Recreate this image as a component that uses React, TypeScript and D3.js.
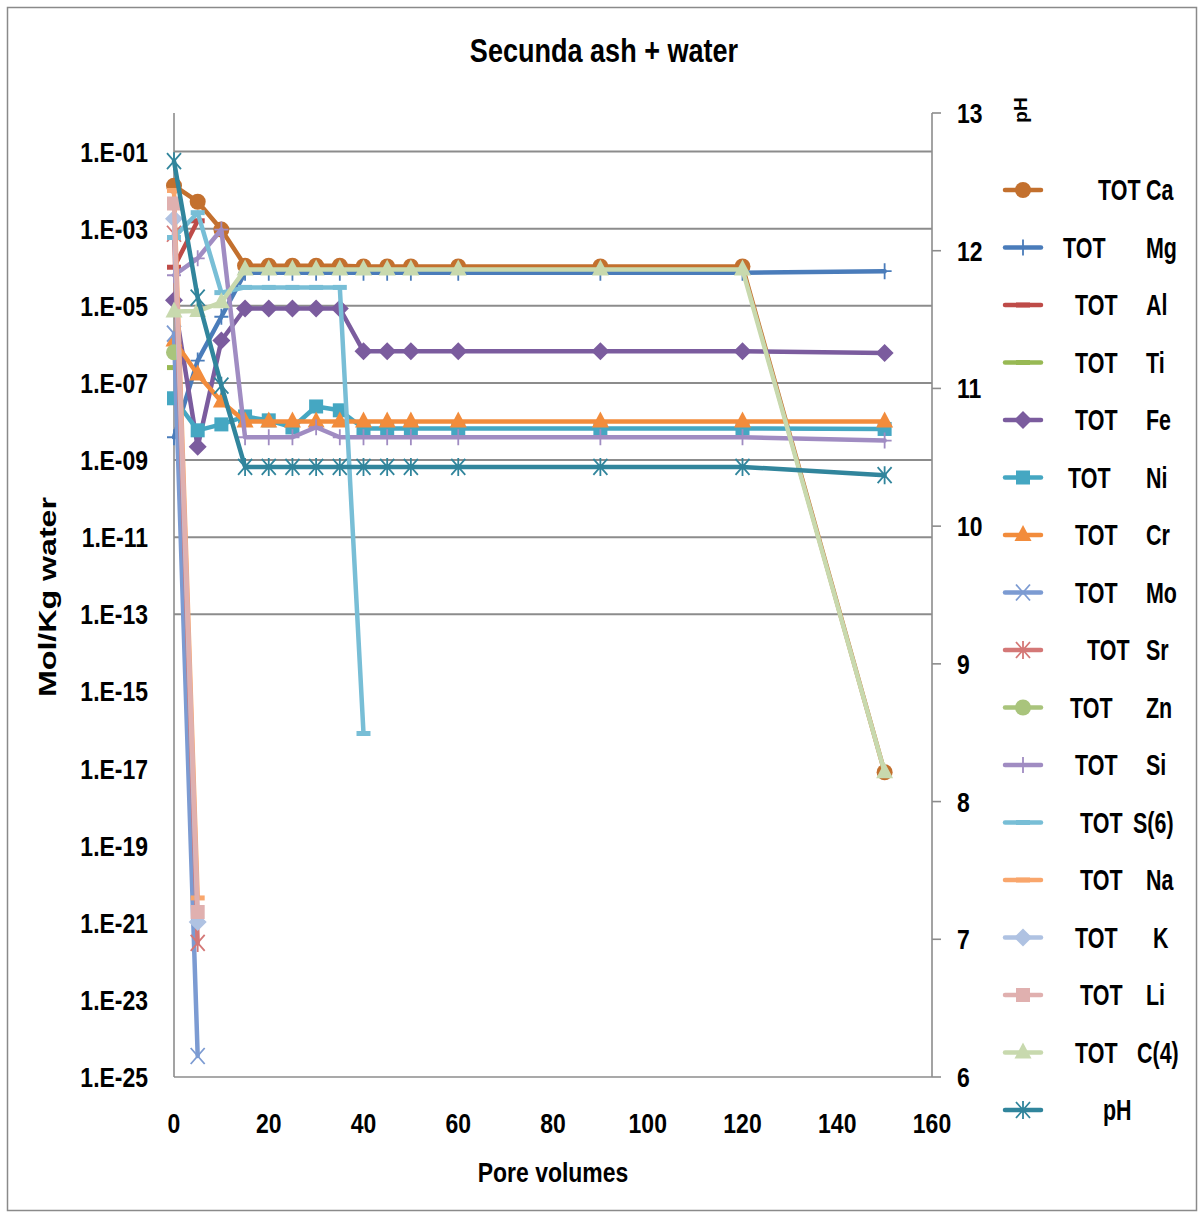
import React from 'react';
import * as d3 from 'd3';

// Leaching of Secunda fly ash with water: total dissolved species (mol/kg water)
// and pH against pore volumes flushed.
const poreVolumes = [0, 5, 10, 15, 20, 25, 30, 35, 40, 45, 50, 60, 90, 120, 150];

const totCa = [1.3e-2, 5.0e-3, 9.5e-4, 1.1e-4, 1.1e-4, 1.1e-4, 1.1e-4, 1.1e-4, 1.05e-4, 1.05e-4, 1.05e-4, 1.05e-4, 1.05e-4, 1.05e-4, 8e-18];
const totMg = [3.9e-9, 3.8e-7, 5.2e-6, 7.2e-5, 7.2e-5, 7.2e-5, 7.2e-5, 7.2e-5, 7.2e-5, 7.2e-5, 7.2e-5, 7.2e-5, 7.2e-5, 7.2e-5, 7.9e-5];
const totAl = [1.0e-4, 1.6e-3, null, null, null, null, null, null, null, null, null, null, null, null, null];
const totTi = [2.5e-7, null, null, null, null, null, null, null, null, null, null, null, null, null, null];
const totFe = [1.4e-5, 2.2e-9, 1.26e-6, 8.5e-6, 8.5e-6, 8.5e-6, 8.5e-6, 8.5e-6, 6.6e-7, 6.6e-7, 6.6e-7, 6.6e-7, 6.6e-7, 6.6e-7, 6.0e-7];
const totNi = [4.0e-8, 5.9e-9, 8.4e-9, 1.35e-8, 1.07e-8, 7.0e-9, 2.45e-8, 1.95e-8, 6.6e-9, 6.6e-9, 6.6e-9, 6.6e-9, 6.6e-9, 6.6e-9, 6.4e-9];
const totCr = [1.26e-6, 1.66e-7, 3.3e-8, 1.0e-8, 1.0e-8, 1.0e-8, 1.0e-8, 1.0e-8, 1.0e-8, 1.0e-8, 1.0e-8, 1.0e-8, 1.0e-8, 1.0e-8, 1.0e-8];
const totMo = [1.9e-6, 3.5e-25, null, null, null, null, null, null, null, null, null, null, null, null, null];
const totSr = [7.4e-4, 3.0e-22, null, null, null, null, null, null, null, null, null, null, null, null, null];
const totZn = [6.2e-7, null, null, null, null, null, null, null, null, null, null, null, null, null, null];
const totSi = [6.2e-5, 1.7e-4, 9.5e-4, 3.9e-9, 3.9e-9, 3.9e-9, 7.1e-9, 3.9e-9, 3.9e-9, 3.9e-9, 3.9e-9, 3.9e-9, 3.9e-9, 3.9e-9, 3.2e-9];
const totS6 = [5.9e-4, 2.6e-3, 2.2e-5, 3.0e-5, 3.0e-5, 3.0e-5, 3.0e-5, 3.0e-5, 8.1e-17, null, null, null, null, null, null];
const totNa = [9.8e-3, 4.4e-21, null, null, null, null, null, null, null, null, null, null, null, null, null];
const totK = [1.8e-3, 1.05e-21, null, null, null, null, null, null, null, null, null, null, null, null, null];
const totLi = [4.5e-3, 1.9e-21, null, null, null, null, null, null, null, null, null, null, null, null, null];
const totC4 = [7.1e-6, 7.3e-6, 1.23e-5, 8.7e-5, 8.7e-5, 8.7e-5, 8.7e-5, 8.7e-5, 8.7e-5, 8.7e-5, 8.7e-5, 8.7e-5, 8.7e-5, 8.7e-5, 8e-18];
const pH = [12.65, 11.66, 11.02, 10.43, 10.43, 10.43, 10.43, 10.43, 10.43, 10.43, 10.43, 10.43, 10.43, 10.43, 10.37];

const concTicks = [1e-1, 1e-3, 1e-5, 1e-7, 1e-9, 1e-11, 1e-13, 1e-15, 1e-17, 1e-19, 1e-21, 1e-23, 1e-25];
const gridTicks = [1e-1, 1e-3, 1e-5, 1e-7, 1e-9, 1e-11, 1e-13];
const pvTicks = [0, 20, 40, 60, 80, 100, 120, 140, 160];
const pHTicks = [6, 7, 8, 9, 10, 11, 12, 13];

type MarkerKind = 'circle' | 'plus' | 'dash' | 'diamond' | 'square' | 'triangle' | 'x' | 'asterisk';

interface Series {
  tot: boolean;
  element: string;
  values: (number | null)[];
  color: string;
  marker: MarkerKind;
  axis: 'conc' | 'pH';
  totX: number;
  elX: number;
}

const series: Series[] = [
  { tot: true, element: 'Ca', values: totCa, color: '#C3702E', marker: 'circle', axis: 'conc', totX: 1098, elX: 1146 },
  { tot: true, element: 'Mg', values: totMg, color: '#4A7CBA', marker: 'plus', axis: 'conc', totX: 1063, elX: 1146 },
  { tot: true, element: 'Al', values: totAl, color: '#BE4B48', marker: 'dash', axis: 'conc', totX: 1075, elX: 1146 },
  { tot: true, element: 'Ti', values: totTi, color: '#98B954', marker: 'dash', axis: 'conc', totX: 1075, elX: 1146 },
  { tot: true, element: 'Fe', values: totFe, color: '#7B5C9E', marker: 'diamond', axis: 'conc', totX: 1075, elX: 1146 },
  { tot: true, element: 'Ni', values: totNi, color: '#45A7C2', marker: 'square', axis: 'conc', totX: 1068, elX: 1146 },
  { tot: true, element: 'Cr', values: totCr, color: '#F28C3C', marker: 'triangle', axis: 'conc', totX: 1075, elX: 1146 },
  { tot: true, element: 'Mo', values: totMo, color: '#7C9BD2', marker: 'x', axis: 'conc', totX: 1075, elX: 1146 },
  { tot: true, element: 'Sr', values: totSr, color: '#D47877', marker: 'asterisk', axis: 'conc', totX: 1087, elX: 1146 },
  { tot: true, element: 'Zn', values: totZn, color: '#A9C47C', marker: 'circle', axis: 'conc', totX: 1070, elX: 1146 },
  { tot: true, element: 'Si', values: totSi, color: '#A08CC2', marker: 'plus', axis: 'conc', totX: 1075, elX: 1146 },
  { tot: true, element: 'S(6)', values: totS6, color: '#78BED6', marker: 'dash', axis: 'conc', totX: 1080, elX: 1133 },
  { tot: true, element: 'Na', values: totNa, color: '#F9A66C', marker: 'dash', axis: 'conc', totX: 1080, elX: 1146 },
  { tot: true, element: 'K', values: totK, color: '#AFC2E2', marker: 'diamond', axis: 'conc', totX: 1075, elX: 1153 },
  { tot: true, element: 'Li', values: totLi, color: '#E0B0AF', marker: 'square', axis: 'conc', totX: 1080, elX: 1146 },
  { tot: true, element: 'C(4)', values: totC4, color: '#C8D9AE', marker: 'triangle', axis: 'conc', totX: 1075, elX: 1137 },
  { tot: false, element: 'pH', values: pH, color: '#31859C', marker: 'asterisk', axis: 'pH', totX: 1103, elX: 1103 },
];

const FONT = '"Liberation Sans", Arial, sans-serif';

// Bold text squeezed horizontally to get a condensed face.
function CText({
  x,
  y,
  size,
  anchor = 'start',
  sx = 0.82,
  children,
}: {
  x: number;
  y: number;
  size: number;
  anchor?: 'start' | 'middle' | 'end';
  sx?: number;
  children: React.ReactNode;
}) {
  return (
    <text
      transform={`translate(${x},${y}) scale(${sx},1)`}
      textAnchor={anchor}
      fontFamily={FONT}
      fontWeight="bold"
      fontSize={size}
      fill="#000"
    >
      {children}
    </text>
  );
}

function Marker({ kind, x, y, color }: { kind: MarkerKind; x: number; y: number; color: string }) {
  const t = `translate(${x},${y})`;
  switch (kind) {
    case 'circle':
      return <circle transform={t} r={8} fill={color} />;
    case 'diamond':
      return <path transform={t} d="M0,-9L9,0L0,9L-9,0Z" fill={color} />;
    case 'square':
      return <rect transform={t} x={-7} y={-7} width={14} height={14} fill={color} />;
    case 'triangle':
      return <path transform={t} d="M0,-10L8.5,6L-8.5,6Z" fill={color} />;
    case 'plus':
      return <path transform={t} d="M-7,0H7M0,-8V8" stroke={color} strokeWidth={1.8} fill="none" />;
    case 'x':
      return <path transform={t} d="M-7,-8L7,8M-7,8L7,-8" stroke={color} strokeWidth={1.8} fill="none" />;
    case 'asterisk':
      return <path transform={t} d="M-7,-8L7,8M-7,8L7,-8M0,-9V9" stroke={color} strokeWidth={1.8} fill="none" />;
    case 'dash':
      return <path transform={t} d="M-7,0H7" stroke={color} strokeWidth={5} fill="none" />;
  }
}

export default function App() {
  const plot = { left: 174, right: 932, top: 113, bottom: 1077 };
  const x = d3.scaleLinear().domain([0, 160]).range([plot.left, plot.right]);
  const yConc = d3.scaleLog().domain([1e-25, 1]).range([plot.bottom, plot.top]);
  const yPH = d3.scaleLinear().domain([6, 13]).range([plot.bottom, plot.top]);

  const pathFor = (s: Series) => {
    const yS = s.axis === 'pH' ? yPH : yConc;
    const pts = poreVolumes.map((p, i) => ({ p, v: s.values[i] }));
    return d3
      .line<{ p: number; v: number | null }>()
      .defined((d) => d.v != null)
      .x((d) => x(d.p))
      .y((d) => yS(d.v as number))(pts) as string;
  };

  const legendY = (i: number) => 190 + i * 57.5;

  return (
    <svg
      width={1202}
      height={1218}
      style={{ position: 'absolute', left: 0, top: 0, background: '#fff' }}
    >
      <rect x={0} y={0} width={1202} height={1218} fill="#fff" />
      <rect x={7.5} y={7.5} width={1189} height={1203} fill="none" stroke="#8a8a8a" strokeWidth={1.5} />

      {/* gridlines */}
      {gridTicks.map((t) => (
        <line key={t} x1={plot.left} x2={plot.right} y1={yConc(t)} y2={yConc(t)} stroke="#8c8c8c" strokeWidth={2} />
      ))}

      {/* axes */}
      <line x1={plot.left} x2={plot.left} y1={plot.top} y2={plot.bottom} stroke="#8c8c8c" strokeWidth={1.6} />
      <line x1={plot.left} x2={plot.right} y1={plot.bottom} y2={plot.bottom} stroke="#8c8c8c" strokeWidth={1.6} />
      <line x1={plot.right} x2={plot.right} y1={plot.top} y2={plot.bottom} stroke="#8c8c8c" strokeWidth={1.6} />
      {pHTicks.map((t) => (
        <line key={t} x1={plot.right} x2={plot.right + 9} y1={yPH(t)} y2={yPH(t)} stroke="#8c8c8c" strokeWidth={1.6} />
      ))}

      {/* tick labels */}
      {concTicks.map((t) => (
        <CText key={t} x={148} y={yConc(t) + 10} size={28} anchor="end">
          {'1.E-' + String(Math.round(-Math.log10(t))).padStart(2, '0')}
        </CText>
      ))}
      {pvTicks.map((t) => (
        <CText key={t} x={x(t)} y={1133} size={28} anchor="middle">
          {t}
        </CText>
      ))}
      {pHTicks.map((t) => (
        <CText key={t} x={957} y={yPH(t) + 10} size={28}>
          {t}
        </CText>
      ))}

      {/* series */}
      {series.map((s) => {
        const yS = s.axis === 'pH' ? yPH : yConc;
        return (
          <g key={s.element}>
            <path d={pathFor(s)} fill="none" stroke={s.color} strokeWidth={4.5} strokeLinejoin="round" strokeLinecap="round" />
            {poreVolumes.map((p, i) =>
              s.values[i] == null ? null : (
                <Marker key={i} kind={s.marker} x={x(p)} y={yS(s.values[i] as number)} color={s.color} />
              )
            )}
          </g>
        );
      })}

      {/* titles */}
      <CText x={604} y={62} size={33} anchor="middle">
        Secunda ash + water
      </CText>
      <CText x={553} y={1182} size={28} anchor="middle">
        Pore volumes
      </CText>
      <text
        transform="translate(56,597) rotate(-90)"
        textAnchor="middle"
        fontFamily={FONT}
        fontWeight="bold"
        fontSize={23}
        textLength={200}
        lengthAdjust="spacingAndGlyphs"
      >
        Mol/Kg water
      </text>
      <text transform="translate(1027,110) rotate(-90)" textAnchor="middle" fontFamily={FONT} fontWeight="bold" fontSize={19}>
        pH
      </text>

      {/* legend */}
      {series.map((s, i) => {
        const ly = legendY(i);
        return (
          <g key={s.element}>
            <line x1={1005} x2={1041} y1={ly} y2={ly} stroke={s.color} strokeWidth={4.5} strokeLinecap="round" />
            <Marker kind={s.marker} x={1023} y={ly} color={s.color} />
            {s.tot ? (
              <>
                <CText x={s.totX} y={ly + 10} size={29} sx={0.74}>TOT</CText>
                <CText x={s.elX} y={ly + 10} size={29} sx={0.74}>{s.element}</CText>
              </>
            ) : (
              <CText x={s.elX} y={ly + 10} size={29} sx={0.74}>{s.element}</CText>
            )}
          </g>
        );
      })}
    </svg>
  );
}
